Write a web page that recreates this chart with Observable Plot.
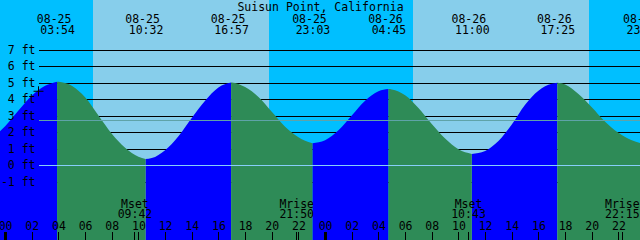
<!DOCTYPE html>
<html><head><meta charset="utf-8">
<script src="https://cdn.jsdelivr.net/npm/d3@7"></script>
<script src="https://cdn.jsdelivr.net/npm/@observablehq/plot@0.6"></script>
<style>html,body{margin:0;padding:0;background:#fff;} svg{display:block;}</style>
</head><body><div id="chart"></div>
<script>
// ---- data ----
const title = "Suisun Point, California";

// tide extremes (high / low), shown as labels along the top
const extremeDates = ["08-25","08-25","08-25","08-25","08-26","08-26","08-26","08-26"];
const extremeTimes = ["03:54","10:32","16:57","23:03","04:45","11:00","17:25","23:52"];
const extremeFeet  = [5.05, 0.36, 5.0, 1.32, 4.6, 0.67, 4.98, 1.28];

// water level at the left edge, then hourly from 08-25 00:00
const edgeDate = "08-24", edgeTime = "23:37", edgeFeet = 2.05;
const hourlyStartDate = "08-25";
const hourlyFeet = [
  2.35, 3.3, 4.2, 4.8, 5.04, 4.8, 4.1, 3.0, 1.9, 1.05,
  0.5, 0.42, 0.9, 1.75, 2.85, 3.9, 4.7, 5.0, 4.72, 4.12,
  3.22, 2.32, 1.68, 1.33, 1.5, 2.1, 3.0, 3.9, 4.47, 4.58,
  4.22, 3.45, 2.48, 1.6, 0.95, 0.67, 0.85, 1.45, 2.45, 3.65,
  4.5, 4.92, 4.88, 4.3, 3.5, 2.62, 1.95, 1.5
];

// sun (day shading)
const sunriseDates = ["08-25","08-26"], sunriseTimes = ["06:35","06:35"];
const sunsetDates  = ["08-25","08-26"], sunsetTimes  = ["19:48","19:47"];

// moon events along the bottom
const moonLabels = ["Mset","Mrise","Mset","Mrise"];
const moonDates  = ["08-25","08-25","08-26","08-26"];
const moonTimes  = ["09:42","21:50","10:43","22:15"];

// axes
const feetTicks = [7, 6, 5, 4, 3, 2, 1, 0, -1];
const datumFeet = 0;
const meanFeet = 2.71;
const markFeet = 4.5;
const hourLabels = ["00","02","04","06","08","10","12","14","16","18","20","22"];
const tickDates = ["08-25","08-26"];
const viewStart = ["08-24","23:37"], viewEnd = ["08-26","23:37"];
const yDomain = [-4.545, 10];

// ---- build tables ----
const toHours = (date, time) => {
  const day = +date.slice(3) - 25;
  const [hh, mm] = time.split(":").map(Number);
  return day * 24 + hh + mm / 60;
};
const extremes = extremeDates.map((d, i) => ({date: d, time: extremeTimes[i], h: toHours(d, extremeTimes[i]), ft: extremeFeet[i], ext: true}));
const h0 = toHours(hourlyStartDate, "00:00");
const readings = [{h: toHours(edgeDate, edgeTime), ft: edgeFeet}, ...hourlyFeet.map((ft, i) => ({h: h0 + i, ft}))];
const pts = [...readings.filter(r => !extremes.some(e => Math.abs(e.h - r.h) < 1e-6)), ...extremes].sort((a, b) => a.h - b.h);
const segs = []; let cur = [];
for (const p of pts) { cur.push(p); if (p.ext) { segs.push(cur); cur = [p]; } }
if (cur.length > 1) segs.push(cur);
const water = segs.flatMap((s, i) => {
  const phase = s[s.length - 1].ft > s[0].ft ? "rise" : "fall";
  return s.map(p => ({h: p.h, ft: p.ft, seg: i, phase}));
});
const days = sunriseDates.map((d, i) => ({rise: toHours(d, sunriseTimes[i]), set: toHours(sunsetDates[i], sunsetTimes[i])}));
const moon = moonLabels.map((l, i) => ({label: l, time: moonTimes[i], h: toHours(moonDates[i], moonTimes[i])}));
const hourTicks = tickDates.flatMap(d => hourLabels.map(l => ({label: l, h: toHours(d, l + ":00")})));
const yBottom = yDomain[0];
const font = "DejaVu Sans Mono";

const chart = Plot.plot({
  width: 640, height: 240,
  marginTop: 0, marginRight: 0, marginBottom: 0, marginLeft: 0,
  x: {domain: [toHours(...viewStart), toHours(...viewEnd)], axis: null},
  y: {domain: yDomain, axis: null},
  style: {fontFamily: font, fontSize: "11.5px", background: "#00bfff"},
  marks: [
    Plot.frame({fill: "#00bfff", stroke: "none"}),
    Plot.rect(days, {x1: "rise", x2: "set", fill: "#87ceeb", shapeRendering: "crispEdges"}),
    Plot.ruleY(feetTicks, {insetLeft: 39, stroke: "black", strokeWidth: 1, shapeRendering: "crispEdges"}),
    Plot.areaY(water, {filter: d => d.phase === "rise", x: "h", y1: yBottom, y2: "ft", z: "seg", fill: "#0000ff", curve: "monotone-x", clip: true}),
    Plot.areaY(water, {filter: d => d.phase === "fall", x: "h", y1: yBottom, y2: "ft", z: "seg", fill: "#2e8b57", curve: "monotone-x", clip: true}),
    Plot.ruleY([meanFeet], {insetLeft: 39, stroke: "#5fa3a8", strokeWidth: 1, shapeRendering: "crispEdges"}),
    Plot.ruleY([datumFeet], {insetLeft: 39, stroke: "#87cefa", strokeWidth: 1, shapeRendering: "crispEdges"}),
    Plot.text(feetTicks, {y: d => d, text: d => `${d} ft`, frameAnchor: "left", textAnchor: "end", dx: 35, lineAnchor: "middle", fill: "black", fontSize: 11.5}),
    Plot.dot([markFeet], {y: d => d, frameAnchor: "left", dx: 38, symbol: "plus", r: 3.3, stroke: "black", strokeWidth: 1}),
    Plot.text([title], {frameAnchor: "top", lineAnchor: "bottom", dy: 10, text: d => d, fill: "black", fontSize: 11.5}),
    Plot.text(extremes, {x: "h", text: "date", frameAnchor: "top", lineAnchor: "bottom", dy: 22, dx: -3.5, fill: "black", fontSize: 11.5}),
    Plot.text(extremes, {x: "h", text: "time", frameAnchor: "top", lineAnchor: "bottom", dy: 33, fill: "black", fontSize: 11.5}),
    Plot.text(moon, {x: "h", text: "label", frameAnchor: "bottom", lineAnchor: "bottom", dy: -33, fill: "black", fontSize: 11.5}),
    Plot.text(moon, {x: "h", text: "time", frameAnchor: "bottom", lineAnchor: "bottom", dy: -23, fill: "black", fontSize: 11.5}),
    Plot.text(hourTicks, {x: "h", text: "label", frameAnchor: "bottom", lineAnchor: "bottom", dy: -11, fill: "black", fontSize: 11.5}),
    Plot.ruleX(hourTicks, {x: "h", insetTop: 232, stroke: "black", strokeWidth: d => d.label === "00" ? 3 : 1, shapeRendering: "crispEdges"}),
    Plot.ruleX(moon, {x: "h", insetTop: 232, stroke: "black", strokeWidth: 1, shapeRendering: "crispEdges"})
  ]
});
document.getElementById("chart").appendChild(chart);
</script>
</body></html>
